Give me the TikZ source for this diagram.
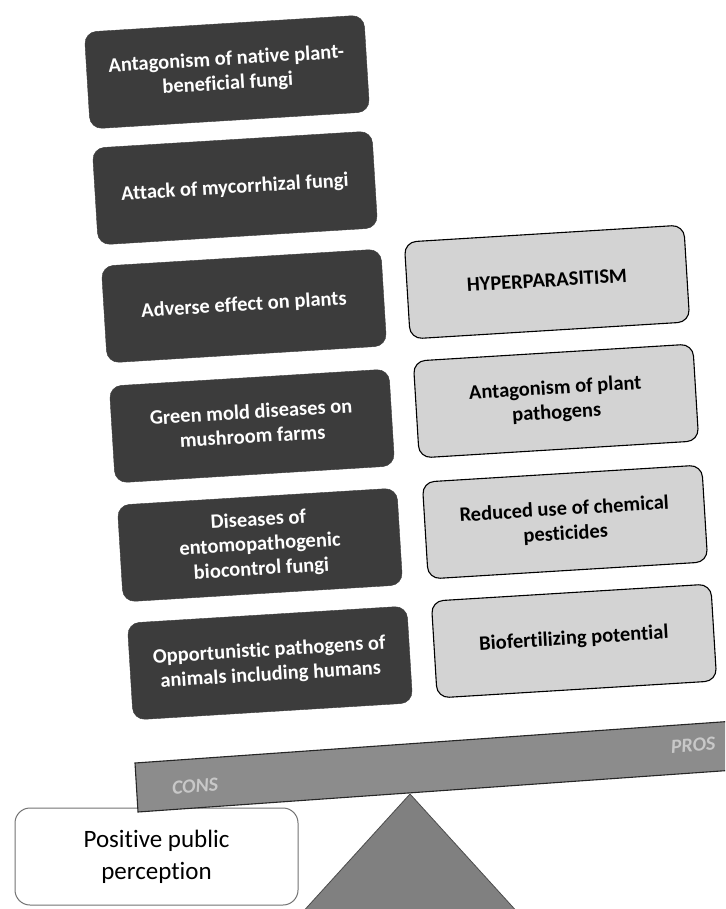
\documentclass[tikz,border=0pt]{standalone}
\usepackage{fontspec}
\setmainfont[Ligatures=NoCommon]{Carlito}
\definecolor{darkbox}{HTML}{3C3C3C}
\definecolor{lightbox}{HTML}{D3D3D3}
\definecolor{beamfill}{HTML}{8C8C8C}
\definecolor{fulcrum}{HTML}{808080}
\definecolor{beamtext}{HTML}{C8C8C8}
\newcommand{\lift}[2]{\raisebox{#1}{\begin{tabular}{@{}c@{}}#2\end{tabular}}}
\begin{document}
\begin{tikzpicture}[x=1pt,y=1pt,
  consbox/.style={rectangle, rounded corners=12pt, fill=darkbox, draw=darkbox,
    minimum width=280pt, minimum height=97pt, rotate=3.5, align=center,
    text=white, font=\bfseries\fontsize{20.5}{24.5}\selectfont},
  prosbox/.style={rectangle, rounded corners=12pt, fill=lightbox, draw=black, line width=1.1pt,
    minimum width=280pt, minimum height=97pt, rotate=3.5, align=center,
    text=black, font=\bfseries\fontsize{20.5}{24.5}\selectfont},
  beamlabel/.style={text=beamtext, font=\bfseries\itshape\fontsize{20}{22}\selectfont, rotate=4}]
\useasboundingbox (0,0) rectangle (725,-909);
\fill[white] (0,0) rectangle (725,-909);

% cons (left column)
\node[consbox] (c1) at (227,-72) {Antagonism of native plant-\\beneficial fungi};
\node[consbox] (c2) at (235,-188) {Attack of mycorrhizal fungi};
\node[consbox] (c3) at (244,-306) {\lift{3pt}{Adverse effect on plants}};
\node[consbox] (c4) at (252,-426) {\lift{5pt}{Green mold diseases on\\mushroom farms}};
\node[consbox] (c5) at (260,-545) {Diseases of\\entomopathogenic\\biocontrol fungi};
\node[consbox] (c6) at (270,-663) {Opportunistic pathogens of\\animals including humans};

% pros (right column)
\node[prosbox] (p1) at (547,-282) {\lift{2pt}{HYPERPARASITISM}};
\node[prosbox] (p2) at (556,-401) {Antagonism of plant\\pathogens};
\node[prosbox] (p3) at (565,-522) {Reduced use of chemical\\pesticides};
\node[prosbox] (p4) at (574,-641) {\lift{10pt}{Biofertilizing potential}};

% positive public perception box
\node[rectangle, rounded corners=15pt, draw=black!55, line width=1pt, fill=white,
  minimum width=283pt, minimum height=97pt, align=center,
  font=\fontsize{25}{32}\selectfont] (ppp) at (156.5,-856.5) {Positive public\\perception};

% fulcrum and beam
\begin{scope}
\clip (0,0) rectangle (725,-909);
\filldraw[fill=fulcrum, draw=black!70, line width=0.8pt] (410,-794) -- (520,-915) -- (300,-915) -- cycle;
\filldraw[fill=beamfill, draw=black!85, line width=1.1pt] (135,-763) -- (735,-721) -- (735,-770) -- (138,-812) -- cycle;
\end{scope}
\node[beamlabel] (cons) at (195,-786) {CONS};
\node[beamlabel] (pros) at (693,-745) {PROS};
\end{tikzpicture}
\end{document}
